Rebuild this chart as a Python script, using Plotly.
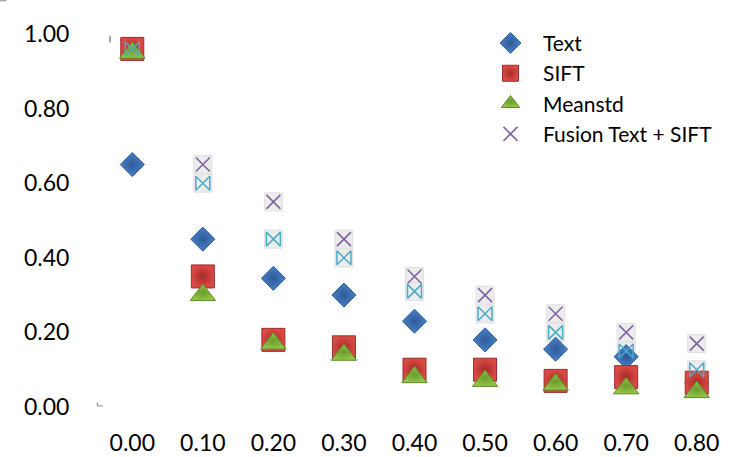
import plotly.graph_objects as go

thresholds = [0.00, 0.10, 0.20, 0.30, 0.40, 0.50, 0.60, 0.70, 0.80]
text_vals = [0.65, 0.45, 0.345, 0.30, 0.23, 0.18, 0.155, 0.135, 0.065]
sift_vals = [0.96, 0.35, 0.18, 0.16, 0.10, 0.10, 0.07, 0.08, 0.065]
meanstd_vals = [0.95, 0.30, 0.17, 0.14, 0.08, 0.07, 0.06, 0.05, 0.04]
fusion_vals = [0.96, 0.65, 0.55, 0.45, 0.35, 0.30, 0.25, 0.20, 0.17]
fusion_alt_vals = [0.96, 0.60, 0.45, 0.40, 0.31, 0.25, 0.20, 0.15, 0.10]
y_ticks = [0.0, 0.2, 0.4, 0.6, 0.8, 1.0]

FONT = "Lato, Open Sans, sans-serif"

fig = go.Figure()

# light boxes behind the cross markers
for vals in (fusion_vals, fusion_alt_vals):
    fig.add_trace(go.Scatter(
        x=thresholds, y=vals, mode="markers", showlegend=False, hoverinfo="skip",
        marker=dict(symbol="square", size=18, color="#ececec",
                    line=dict(color="#e0e0e0", width=1)),
    ))

fig.add_trace(go.Scatter(
    x=thresholds, y=fusion_vals, mode="markers", name="Fusion Text + SIFT",
    marker=dict(symbol="x-thin-open", size=14, color="#8064a2",
                line=dict(color="#8064a2", width=1.6)),
))
fig.add_trace(go.Scatter(
    x=thresholds, y=text_vals, mode="markers", name="Text",
    marker=dict(symbol="diamond", size=18.5, color="#4a80c8",
                line=dict(color="#2b5a9a", width=1),
                gradient=dict(type="radial", color="#2d5a96")),
))
fig.add_trace(go.Scatter(
    x=thresholds, y=sift_vals, mode="markers", name="SIFT",
    marker=dict(symbol="square", size=23, color="#dc4a45",
                line=dict(color="#9b2d2a", width=1),
                gradient=dict(type="radial", color="#a52a27")),
))
fig.add_trace(go.Scatter(
    x=thresholds, y=meanstd_vals, mode="markers", name="Meanstd",
    marker=dict(symbol="triangle-up", size=22, color="#94c447",
                line=dict(color="#5f8a27", width=1),
                gradient=dict(type="radial", color="#6a9a2c")),
))
fig.add_trace(go.Scatter(
    x=thresholds, y=fusion_alt_vals, mode="markers", showlegend=False,
    name="Fusion",
    marker=dict(symbol="bowtie-open", size=14, color="#4bacc6",
                line=dict(color="#4bacc6", width=1.5)),
))

# legend order: Text, SIFT, Meanstd, Fusion
for tr, rank in zip(fig.data, [0, 0, 4, 1, 2, 3, 5]):
    tr.legendrank = rank

# small selection handles around the chart
handles = [
    dict(type="rect", xref="paper", yref="paper", x0=-0.1525, x1=-0.1435,
         y0=1.107, y1=1.089, line=dict(color="#8a8a8a", width=1)),
    dict(type="line", xref="paper", yref="paper", x0=0.0205, x1=0.0205,
         y0=0.995, y1=0.977, line=dict(color="#8a8a8a", width=1.5)),
    dict(type="path", xref="paper", yref="paper",
         path="M 0.0005 0.012 L 0.0005 0.003 L 0.009 0.003",
         line=dict(color="#8a8a8a", width=1)),
]

fig.update_layout(
    width=738, height=457,
    margin=dict(l=97, r=6, t=34, b=50, autoexpand=False),
    paper_bgcolor="white", plot_bgcolor="white",
    font=dict(family=FONT, size=23, color="#000000"),
    showlegend=True,
    shapes=handles,
    legend=dict(x=0.60, y=1.03, xanchor="left", yanchor="top",
                bgcolor="rgba(0,0,0,0)", font=dict(size=21),
                tracegroupgap=0, itemwidth=55),
    xaxis=dict(range=[-0.05, 0.85], tickvals=thresholds, tickformat=".2f",
               showgrid=False, zeroline=False, showline=False, automargin=False,
               ticks="outside", ticklen=15, tickcolor="rgba(0,0,0,0)"),
    yaxis=dict(range=[0, 1.0], tickvals=y_ticks, tickformat=".2f",
               showgrid=False, zeroline=False, showline=False, automargin=False,
               ticks="outside", ticklen=22, tickcolor="rgba(0,0,0,0)"),
)

fig.write_html("out.html")
